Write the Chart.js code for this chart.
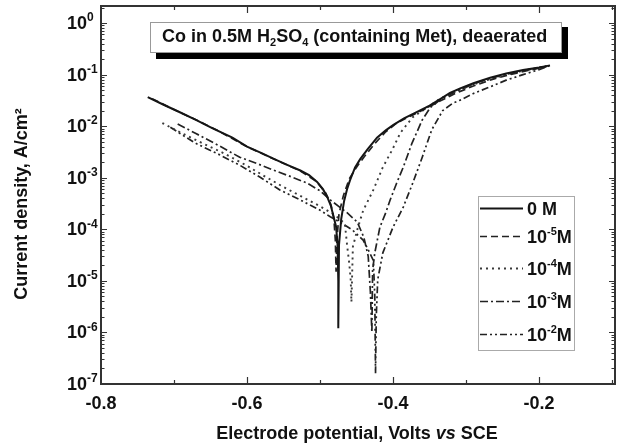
<!DOCTYPE html>
<html><head><meta charset="utf-8">
<script src="https://cdn.jsdelivr.net/npm/chart.js@4.4.1/dist/chart.umd.min.js"></script>
<style>html,body{margin:0;padding:0;background:#fff;overflow:hidden}canvas{display:block}</style>
</head><body>
<canvas id="c" width="618" height="445"></canvas>
<script>
// ---- data (potential in V vs SCE, current density in A/cm2) ----
const E_0M = [-0.736,-0.715,-0.692,-0.670,-0.647,-0.620,-0.600,-0.580,-0.564,-0.545,-0.527,-0.515,-0.504,-0.496,-0.490,-0.485,-0.482,-0.478,-0.476,-0.475,-0.475,-0.474,-0.471,-0.467,-0.463,-0.459,-0.452,-0.445,-0.435,-0.422,-0.410,-0.400,-0.385,-0.367,-0.350,-0.336,-0.322,-0.308,-0.290,-0.267,-0.245,-0.222,-0.200,-0.185];
const I_0M = [3.67e-2,2.63e-2,1.86e-2,1.32e-2,9.1e-3,6.0e-3,4.0e-3,3.0e-3,2.34e-3,1.78e-3,1.38e-3,1.12e-3,8.3e-4,6.0e-4,4.2e-4,2.8e-4,1.9e-4,1.12e-4,5.0e-5,1.0e-5,1.2e-6,5.0e-5,1.58e-4,3.55e-4,6.0e-4,8.9e-4,1.58e-3,2.29e-3,3.55e-3,6.0e-3,8.3e-3,1.05e-2,1.41e-2,1.9e-2,2.5e-2,3.3e-2,4.4e-2,5.4e-2,6.8e-2,8.7e-2,0.105,0.123,0.138,0.151];

const E_1e5 = [-0.730,-0.700,-0.670,-0.640,-0.600,-0.560,-0.527,-0.505,-0.492,-0.485,-0.481,-0.479,-0.478,-0.477,-0.474,-0.468,-0.460,-0.450,-0.440,-0.425,-0.410,-0.395,-0.375,-0.355,-0.335,-0.315,-0.290,-0.265,-0.240,-0.215,-0.190];
const I_1e5 = [3.4e-2,2.1e-2,1.33e-2,8.2e-3,4.0e-3,2.2e-3,1.36e-3,8.5e-4,5.0e-4,3.0e-4,1.6e-4,6e-5,1.5e-5,6e-5,2.0e-4,4.5e-4,9.5e-4,1.6e-3,2.5e-3,4.6e-3,7.8e-3,1.15e-2,1.6e-2,2.2e-2,3.1e-2,4.3e-2,6.0e-2,8.0e-2,1.0e-1,1.2e-1,1.43e-1];

const E_1e4 = [-0.716,-0.690,-0.660,-0.630,-0.600,-0.575,-0.550,-0.525,-0.500,-0.480,-0.466,-0.463,-0.460,-0.458,-0.457,-0.455,-0.449,-0.441,-0.427,-0.414,-0.401,-0.390,-0.373,-0.353,-0.336,-0.310,-0.280,-0.250,-0.220,-0.190];
const I_1e4 = [1.15e-2,7.4e-3,4.6e-3,2.9e-3,1.7e-3,1.05e-3,6.6e-4,4.3e-4,2.8e-4,1.9e-4,1.3e-4,5e-5,2.2e-5,1.05e-5,3.9e-6,4.6e-5,9.8e-5,2.3e-4,5.8e-4,1.6e-3,3.5e-3,7.4e-3,1.5e-2,2.3e-2,3.4e-2,5.0e-2,7.2e-2,9.5e-2,0.12,0.145];

const E_1e3 = [-0.695,-0.670,-0.640,-0.610,-0.585,-0.564,-0.540,-0.518,-0.500,-0.486,-0.463,-0.449,-0.440,-0.434,-0.431,-0.429,-0.428,-0.425,-0.418,-0.410,-0.404,-0.395,-0.386,-0.374,-0.360,-0.349,-0.336,-0.310,-0.280,-0.250,-0.220,-0.190];
const I_1e3 = [1.1e-2,7.2e-3,4.3e-3,2.5e-3,1.85e-3,1.41e-3,1.05e-3,7.9e-4,5.6e-4,3.7e-4,2.1e-4,1.38e-4,7.0e-5,3.0e-5,6e-6,1.0e-6,1.6e-5,3.5e-5,1.1e-4,2.1e-4,3.7e-4,7.9e-4,1.6e-3,4.7e-3,1.32e-2,2.3e-2,3.2e-2,5.0e-2,7.4e-2,9.8e-2,0.12,0.145];

const E_1e2 = [-0.705,-0.671,-0.640,-0.610,-0.582,-0.555,-0.527,-0.500,-0.486,-0.470,-0.456,-0.441,-0.434,-0.427,-0.425,-0.424,-0.423,-0.421,-0.414,-0.400,-0.386,-0.373,-0.360,-0.347,-0.332,-0.318,-0.308,-0.290,-0.267,-0.245,-0.222,-0.200,-0.185];
const I_1e2 = [9.5e-3,4.7e-3,2.9e-3,1.75e-3,1.02e-3,5.8e-4,3.7e-4,2.35e-4,1.75e-4,1.3e-4,9.8e-5,6.2e-5,4.0e-5,2.5e-5,5e-6,1.6e-7,2e-6,1.05e-5,3.5e-5,1.1e-4,2.7e-4,7.9e-4,2.5e-3,8.5e-3,2.0e-2,2.8e-2,3.2e-2,4.3e-2,5.8e-2,7.8e-2,0.1,0.125,0.15];

const legendBase = ['0 M', '10', '10', '10', '10'];
const legendExp  = ['', '-5', '-4', '-3', '-2'];
const xTickValues = [-0.8, -0.6, -0.4, -0.2];
const yTickExps = [-7, -6, -5, -4, -3, -2, -1, 0];
const chartTitle = ['Co in 0.5M H', '2', 'SO', '4', ' (containing Met), deaerated'];
const xTitle = ['Electrode potential, Volts ', 'vs', ' SCE'];
const yTitle = 'Current density, A/cm\u00B2';

const FONT = '"Liberation Sans", Arial, sans-serif';
const pts = (E, I) => E.map((x, i) => ({x: x, y: I[i]}));

const styles = [
  {dash: [], color: '#151515', w: 2},
  {dash: [7, 4], color: '#222', w: 1.7},
  {dash: [2, 4], color: '#3a3a3a', w: 1.9},
  {dash: [8, 3, 2, 3], color: '#222', w: 1.7},
  {dash: [7, 3, 2, 3, 2, 3], color: '#222', w: 1.7}
];
const series = [pts(E_0M, I_0M), pts(E_1e5, I_1e5), pts(E_1e4, I_1e4), pts(E_1e3, I_1e3), pts(E_1e2, I_1e2)];
const labels = ['0 M', '10\u207B\u2075M', '10\u207B\u2074M', '10\u207B\u00B3M', '10\u207B\u00B2M'];

const deco = {
  id: 'deco',
  afterDraw(chart) {
    const ctx = chart.ctx, a = chart.chartArea, xs = chart.scales.x, ys = chart.scales.y;
    ctx.save();
    // ticks on all four sides (inward)
    ctx.strokeStyle = '#333'; ctx.lineWidth = 1.2;
    ctx.beginPath();
    for (let e = -7; e <= 0; e++) {
      for (let m = 1; m <= 9; m++) {
        const v = m * Math.pow(10, e);
        if (v > ys.max) continue;
        const py = Math.round(ys.getPixelForValue(v)) + 0.5;
        const len = m === 1 ? 6 : 3.5;
        ctx.moveTo(a.left, py); ctx.lineTo(a.left + len, py);
        ctx.moveTo(a.right, py); ctx.lineTo(a.right - len, py);
      }
    }
    for (let k = -8; k <= -1; k++) {
      const v = k / 10;
      const px = Math.round(xs.getPixelForValue(v)) + 0.5;
      if (px < a.left + 2 || px > a.right - 2) continue;
      const len = (k % 2 === 0) ? 7 : 4;
      ctx.moveTo(px, a.bottom); ctx.lineTo(px, a.bottom - len);
      ctx.moveTo(px, a.top); ctx.lineTo(px, a.top + len);
    }
    ctx.stroke();
    // frame
    ctx.lineWidth = 2; ctx.strokeStyle = '#333';
    ctx.strokeRect(a.left, a.top, a.right - a.left, a.bottom - a.top);

    ctx.fillStyle = '#111';
    // y tick labels 10^n
    for (const e of yTickExps) {
      const py = ys.getPixelForValue(Math.pow(10, e));
      ctx.font = 'bold 18px ' + FONT;
      ctx.textAlign = 'right'; ctx.textBaseline = 'middle';
      ctx.fillText('10', 87, py + 1);
      ctx.font = 'bold 12px ' + FONT;
      ctx.textAlign = 'left';
      ctx.fillText(String(e), 87, py - 5);
    }
    // y title
    ctx.save();
    ctx.translate(22, 204);
    ctx.rotate(-Math.PI / 2);
    ctx.font = 'bold 18px ' + FONT;
    ctx.textAlign = 'center'; ctx.textBaseline = 'middle';
    ctx.fillText(yTitle, 0, 0);
    ctx.restore();
    // x title with italic "vs"
    ctx.textBaseline = 'alphabetic'; ctx.textAlign = 'left';
    const fN = 'bold 18px ' + FONT, fI = 'italic bold 18px ' + FONT;
    ctx.font = fN; const w1 = ctx.measureText(xTitle[0]).width, w3 = ctx.measureText(xTitle[2]).width;
    ctx.font = fI; const w2 = ctx.measureText(xTitle[1]).width;
    let tx = 357 - (w1 + w2 + w3) / 2; const ty = 439;
    ctx.font = fN; ctx.fillText(xTitle[0], tx, ty); tx += w1;
    ctx.font = fI; ctx.fillText(xTitle[1], tx, ty); tx += w2;
    ctx.font = fN; ctx.fillText(xTitle[2], tx, ty);

    // title box with shadow
    ctx.fillStyle = '#000';
    ctx.fillRect(156, 27, 412, 32);
    ctx.fillStyle = '#fff';
    ctx.fillRect(150, 22, 412, 31);
    ctx.strokeStyle = '#999'; ctx.lineWidth = 1;
    ctx.strokeRect(150.5, 22.5, 411, 30);
    ctx.fillStyle = '#111';
    let cx = 162; const cy = 42;
    chartTitle.forEach((t, i) => {
      const sub = (i === 1 || i === 3);
      ctx.font = sub ? 'bold 11px ' + FONT : 'bold 18px ' + FONT;
      ctx.fillText(t, cx, sub ? cy + 4 : cy);
      cx += ctx.measureText(t).width;
    });

    // legend
    ctx.strokeStyle = '#aaa'; ctx.lineWidth = 1;
    ctx.strokeRect(478.5, 196.5, 96, 154);
    const ly = [208, 236, 268, 301, 334];
    styles.forEach((s, i) => {
      ctx.save();
      ctx.strokeStyle = s.color; ctx.lineWidth = s.w; ctx.setLineDash(s.dash);
      ctx.beginPath(); ctx.moveTo(480, ly[i] + 0.5); ctx.lineTo(523, ly[i] + 0.5); ctx.stroke();
      ctx.restore();
      let lx = 527;
      ctx.fillStyle = '#111';
      ctx.font = 'bold 18px ' + FONT;
      ctx.fillText(legendBase[i], lx, ly[i] + 7);
      lx += ctx.measureText(legendBase[i]).width;
      if (legendExp[i]) {
        ctx.font = 'bold 11px ' + FONT;
        ctx.fillText(legendExp[i], lx, ly[i] - 1);
        lx += ctx.measureText(legendExp[i]).width;
        ctx.font = 'bold 18px ' + FONT;
        ctx.fillText('M', lx, ly[i] + 7);
      }
    });
    ctx.restore();
  }
};

new Chart(document.getElementById('c'), {
  type: 'line',
  data: {
    datasets: series.map((d, i) => ({
      label: labels[i],
      data: d,
      borderColor: styles[i].color,
      borderWidth: styles[i].w,
      borderDash: styles[i].dash,
      pointRadius: 0,
      fill: false,
      tension: 0
    }))
  },
  options: {
    responsive: false,
    animation: false,
    devicePixelRatio: 1,
    layout: {padding: {top: 6, right: 3, left: 0, bottom: 0}},
    plugins: {legend: {display: false}, tooltip: {enabled: false}, title: {display: false}},
    scales: {
      x: {
        type: 'linear', min: -0.8, max: -0.096,
        grid: {display: false, drawTicks: false}, border: {display: false},
        afterBuildTicks: s => { s.ticks = xTickValues.map(v => ({value: v})); },
        afterFit: s => { s.height = 61; },
        ticks: {
          font: {family: FONT, size: 18, weight: 'bold'}, color: '#111', padding: 9,
          maxRotation: 0, autoSkip: false,
          callback: v => v.toFixed(1)
        }
      },
      y: {
        type: 'logarithmic', min: 1e-7, max: 2.14,
        grid: {display: false, drawTicks: false}, border: {display: false},
        afterBuildTicks: s => { s.ticks = yTickExps.map(e => ({value: Math.pow(10, e)})); },
        afterFit: s => { s.width = 101; },
        ticks: {display: false}
      }
    }
  },
  plugins: [deco]
});
</script>
</body></html>
